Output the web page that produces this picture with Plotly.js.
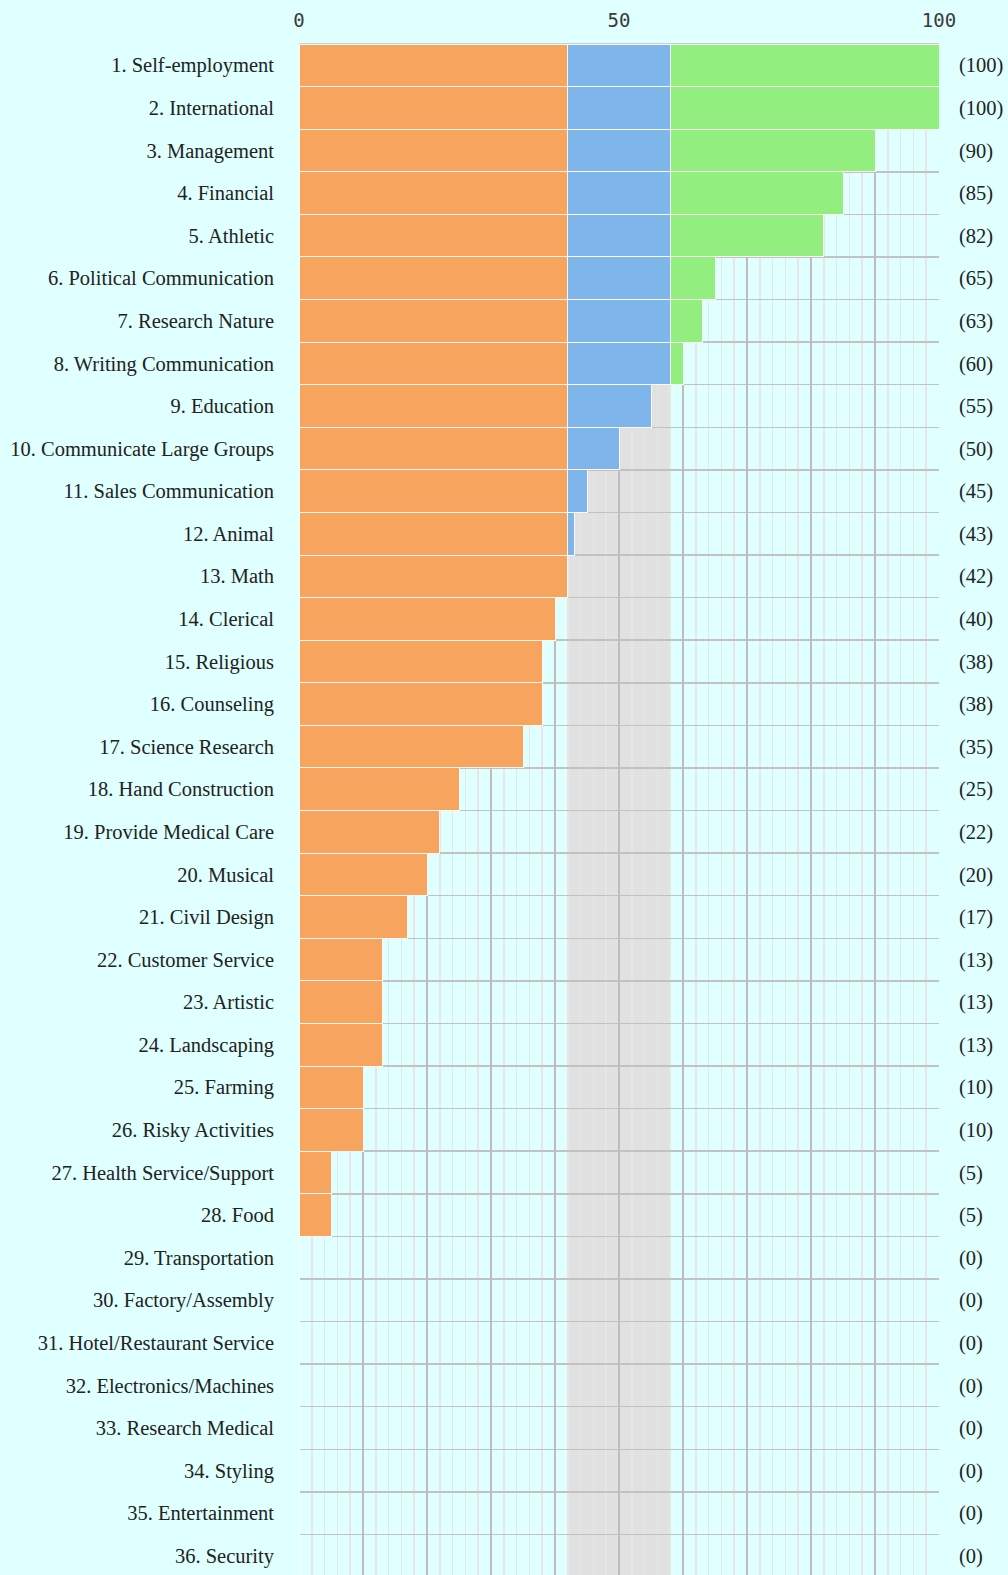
<!DOCTYPE html>
<html>
<head>
<meta charset="utf-8">
<script src="https://cdn.plot.ly/plotly-3.0.1.min.js"></script>
<style>
  html, body { margin: 0; padding: 0; background: #e0ffff; overflow: hidden; }
  #chart { width: 1008px; height: 1577px; }
</style>
</head>
<body>
<div id="chart"></div>
<script>
const categories = [
  "1. Self-employment", "2. International", "3. Management", "4. Financial",
  "5. Athletic", "6. Political Communication", "7. Research Nature",
  "8. Writing Communication", "9. Education", "10. Communicate Large Groups",
  "11. Sales Communication", "12. Animal", "13. Math", "14. Clerical",
  "15. Religious", "16. Counseling", "17. Science Research",
  "18. Hand Construction", "19. Provide Medical Care", "20. Musical",
  "21. Civil Design", "22. Customer Service", "23. Artistic",
  "24. Landscaping", "25. Farming", "26. Risky Activities",
  "27. Health Service/Support", "28. Food", "29. Transportation",
  "30. Factory/Assembly", "31. Hotel/Restaurant Service",
  "32. Electronics/Machines", "33. Research Medical", "34. Styling",
  "35. Entertainment", "36. Security"
];
const scores = [100, 100, 90, 85, 82, 65, 63, 60, 55, 50, 45, 43, 42, 40, 38, 38,
  35, 25, 22, 20, 17, 13, 13, 13, 10, 10, 5, 5, 0, 0, 0, 0, 0, 0, 0, 0];
const bandLow = 42;
const bandHigh = 58;
const xTickVals = [0, 10, 20, 30, 40, 50, 60, 70, 80, 90, 100];
const xTickText = ["0", "", "", "", "", "50", "", "", "", "", "100"];

const idx = categories.map((c, i) => i);
const orangeX = scores.map(s => Math.min(s, bandLow));
const blueX = scores.map(s => Math.max(0, Math.min(s, bandHigh) - bandLow));
const greenX = scores.map(s => Math.max(0, s - bandHigh));
const rightText = scores.map(s => "(" + s + ")");

const barLine = { color: "#fdf8f4", width: 1 };
const traces = [
  { type: "bar", orientation: "h", y: idx, x: orangeX, marker: { color: "#f7a55e", line: barLine }, hoverinfo: "skip" },
  { type: "bar", orientation: "h", y: idx, x: blueX, marker: { color: "#7eb5eb", line: barLine }, hoverinfo: "skip" },
  { type: "bar", orientation: "h", y: idx, x: greenX, marker: { color: "#92ee7f", line: barLine }, hoverinfo: "skip" },
  { type: "scatter", mode: "markers", y: idx, x: scores, yaxis: "y2", marker: { opacity: 0 }, hoverinfo: "skip" }
];

const yRange = [categories.length - 0.5, -0.5];
const layout = {
  width: 1008, height: 1577,
  margin: { l: 299, r: 69, t: 44, b: 0 },
  paper_bgcolor: "#e0ffff",
  plot_bgcolor: "#e0ffff",
  barmode: "stack",
  bargap: 0,
  showlegend: false,
  xaxis: {
    side: "top", range: [0, 100], fixedrange: true,
    tickmode: "array", tickvals: xTickVals, ticktext: xTickText,
    ticks: "", ticklabelstandoff: 8,
    tickfont: { family: "DejaVu Sans Mono", size: 19, color: "#3a3a3a" },
    showgrid: true, gridcolor: "#bdbdbd", gridwidth: 1.5,
    minor: { tickmode: "linear", tick0: 0, dtick: 2, showgrid: true, gridcolor: "#e6e6e6", gridwidth: 1.5 },
    zeroline: false,
    showline: true, linecolor: "#cccccc", linewidth: 1, mirror: true
  },
  yaxis: {
    range: yRange, fixedrange: true,
    tickmode: "array", tickvals: idx, ticktext: categories,
    ticks: "", ticklabelstandoff: 24,
    tickfont: { family: "Liberation Serif", size: 20.5, color: "#222222" },
    showgrid: false, zeroline: false,
    minor: { tickmode: "linear", tick0: 0.5, dtick: 1, showgrid: true, gridcolor: "#c2c2c2", gridwidth: 1.5 }
  },
  yaxis2: {
    overlaying: "y", side: "right", range: yRange, fixedrange: true,
    tickmode: "array", tickvals: idx, ticktext: rightText,
    ticks: "", ticklabelstandoff: 19,
    tickfont: { family: "Liberation Serif", size: 20.5, color: "#222222" },
    showgrid: false, zeroline: false
  },
  shapes: [
    { type: "rect", layer: "below", xref: "x", yref: "paper", x0: bandLow, x1: bandHigh, y0: 0, y1: 1,
      fillcolor: "#e1e1e1", line: { width: 0 } }
  ]
};

Plotly.newPlot("chart", traces, layout, { displayModeBar: false, staticPlot: true });
</script>
</body>
</html>
